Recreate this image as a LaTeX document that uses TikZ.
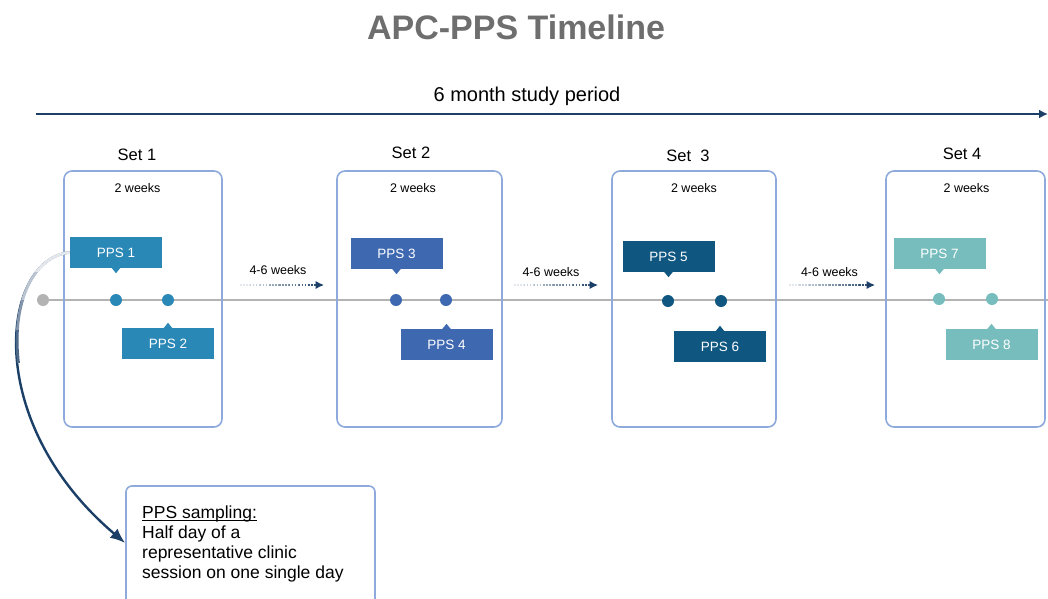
\documentclass[tikz,border=0pt]{standalone}
\usepackage{fontspec}
\setmainfont{Liberation Sans}
\usetikzlibrary{arrows.meta,calc}
\definecolor{navy}{HTML}{1B3F66}
\definecolor{boxline}{HTML}{8EA9DB}
\definecolor{tl}{HTML}{B3B3B3}
\definecolor{cA}{HTML}{2A88B6}
\definecolor{cB}{HTML}{3E68B0}
\definecolor{cC}{HTML}{0F5680}
\definecolor{cD}{HTML}{78BDBD}
\definecolor{titlegray}{HTML}{6E6E6E}
\newcommand{\fsz}[2]{\fontsize{#1}{#2}\selectfont}
\newcommand{\myul}[1]{\leavevmode\rlap{\rule[-2pt]{\widthof{#1}}{0.9pt}}#1}
\usepackage{calc}
\begin{document}
\begin{tikzpicture}[x=1pt,y=-1pt,
  setbox/.style={draw=boxline, line width=1.6pt, rounded corners=8pt, minimum height=256pt, inner sep=0pt},
  callout/.style={fill=#1, text=white, font=\fsz{13.5}{15}, minimum width=92pt, minimum height=31pt, inner sep=0pt},
  tdot/.style={circle, fill=#1, inner sep=0pt, minimum size=12pt},
  setlabel/.style={font=\fsz{16.5}{19}},
  weeks/.style={font=\fsz{12.5}{14}},
  gap/.style={font=\fsz{12.5}{14}}]
\useasboundingbox (0,0) rectangle (1048,598);

% title and study period
\node[font=\fsz{34}{38}\bfseries, text=titlegray] (title) at (516,27) {APC-PPS Timeline};
\node[font=\fsz{20}{24}] (period) at (527,96) {6 month study period};
\coordinate (ts) at (36,114);
\coordinate (te) at (1048,114);
\draw[navy, line width=2.5pt, -{Latex[length=9pt,width=9pt]}] (ts) -- (te);

% timeline
\node[tdot=tl] (g0) at (43,300) {};
\coordinate (tend) at (1048,300);
\draw[tl, line width=2.5pt] (g0) -- (tend);

% set boxes
\node[setbox, minimum width=158pt] (s1) at (143,299) {};
\node[setbox, minimum width=165pt] (s2) at (419.5,299) {};
\node[setbox, minimum width=164pt] (s3) at (694,299) {};
\node[setbox, minimum width=159pt] (s4) at (965.5,299) {};

\node[setlabel] (l1) at (137,155) {Set 1};
\node[setlabel] (l2) at (411,153) {Set 2};
\node[setlabel] (l3) at (688,156) {Set\ \ 3};
\node[setlabel] (l4) at (962,154) {Set 4};

\node[weeks] (w1) at (137.5,188) {2 weeks};
\node[weeks] (w2) at (413,188) {2 weeks};
\node[weeks] (w3) at (694,188) {2 weeks};
\node[weeks] (w4) at (966.5,188) {2 weeks};

% dots
\node[tdot=cA] (d1) at (116,300) {};
\node[tdot=cA] (d2) at (168,300) {};
\node[tdot=cB] (d3) at (396,300) {};
\node[tdot=cB] (d4) at (446,300) {};
\node[tdot=cC] (d5) at (668,301) {};
\node[tdot=cC] (d6) at (721,301) {};
\node[tdot=cD] (d7) at (939,299) {};
\node[tdot=cD] (d8) at (992,299) {};

% callouts
\node[callout=cA] (p1) at (116,252.5) {PPS 1};
\node[callout=cA] (p2) at (168,343.5) {PPS 2};
\node[callout=cB] (p3) at (396.5,253.5) {PPS 3};
\node[callout=cB] (p4) at (446.5,344.5) {PPS 4};
\node[callout=cC] (p5) at (668.5,256.5) {PPS 5};
\node[callout=cC] (p6) at (720,346.5) {PPS 6};
\node[callout=cD] (p7) at (939.5,253.5) {PPS 7};
\node[callout=cD] (p8) at (991.5,344.5) {PPS 8};
\foreach \p/\c in {p1/cA,p3/cB,p5/cC,p7/cD}
  \fill[\c] ([xshift=-4.5pt,yshift=0.5pt]\p.south) -- ([xshift=4.5pt,yshift=0.5pt]\p.south) -- ([yshift=-5pt]\p.south) -- cycle;
\foreach \p/\c in {p2/cA,p4/cB,p6/cC,p8/cD}
  \fill[\c] ([xshift=-4.5pt,yshift=-0.5pt]\p.north) -- ([xshift=4.5pt,yshift=-0.5pt]\p.north) -- ([yshift=5pt]\p.north) -- cycle;

% gaps
\node[gap] (g1) at (278,270) {4-6 weeks};
\node[gap] (g2) at (551,272) {4-6 weeks};
\node[gap] (g3) at (829.5,272) {4-6 weeks};
\coordinate (a1s) at (240,285); \coordinate (a1e) at (324,285);
\coordinate (a2s) at (514,285); \coordinate (a2e) at (598,285);
\coordinate (a3s) at (789,285); \coordinate (a3e) at (875,285);
\foreach \s/\e in {a1s/a1e,a2s/a2e,a3s/a3e}{
  \foreach \i [evaluate=\i as \pc using 12+\i*11] in {0,...,7}
    \draw[navy!\pc, line width=2pt, dash pattern=on 1.5pt off 1.5pt]
      ($(\s)!\i/8!($(\e)+(-6,0)$)$) -- ($(\s)!\i/8+1/8!($(\e)+(-6,0)$)$);
  \draw[navy, line width=1.5pt, -{Latex[length=8.5pt,width=8.5pt]}] ($(\e)+(-6,0)$) -- (\e);
}

% sampling box
\node[draw=boxline, line width=1.6pt, rounded corners=6pt, minimum width=249pt, minimum height=130pt, inner sep=0pt] (samp) at (250.5,551) {};
\node[anchor=north west, align=left, font=\fsz{17.5}{20}, inner sep=0pt] (stext) at (142,506)
  {\myul{PPS sampling:}\\Half day of a\\representative clinic\\session on one single day};

% curved connector
\draw[navy, line width=2.4pt, -{Latex[length=15pt,width=12pt]}] (p1.west) .. controls (2,258) and (-20,420) .. ([yshift=8pt]samp.west);
\foreach \ya/\yb/\pc in {230/272/12, 272/300/30, 300/330/55, 330/362/78}{
  \begin{scope}
    \clip (0,\ya) rectangle (80,\yb);
    \draw[navy!\pc, line width=2.8pt] (p1.west) .. controls (2,258) and (-20,420) .. ([yshift=8pt]samp.west);
  \end{scope}
}
\end{tikzpicture}
\end{document}
